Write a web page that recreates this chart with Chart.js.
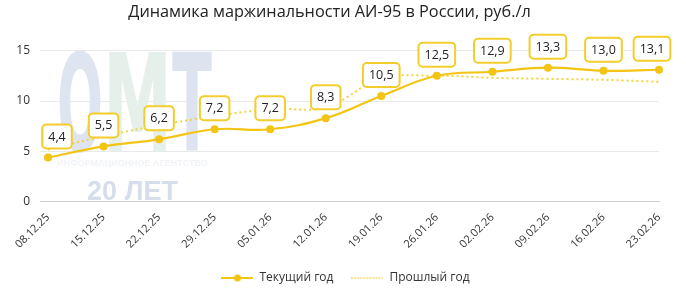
<!DOCTYPE html>
<html>
<head>
<meta charset="utf-8">
<script src="https://cdn.jsdelivr.net/npm/chart.js@4"></script>
<style>
  html, body { margin: 0; padding: 0; background: #fff; }
  #wrap { width: 686px; height: 298px; }
</style>
</head>
<body>
<div id="wrap"><canvas id="marginChart" width="686" height="298"></canvas></div>
<script>
// данные
const weeks = ["08.12.25", "15.12.25", "22.12.25", "29.12.25", "05.01.26", "12.01.26",
               "19.01.26", "26.01.26", "02.02.26", "09.02.26", "16.02.26", "23.02.26"];
const currentYear = [4.4, 5.5, 6.2, 7.2, 7.2, 8.3, 10.5, 12.5, 12.9, 13.3, 13.0, 13.1];
const lastYear = [5.2, 6.5, 7.6, 8.5, 9.2, 9.4, 12.2, 12.5, 12.3, 12.2, 12.1, 11.9];
const yTicks = [0, 5, 10, 15];

const GOLD = "#f4c414";
const GOLD_LIGHT = "#f5d23c";

function legendIcon(dotted) {
    const c = document.createElement("canvas");
    c.width = 32; c.height = 10;
    const g = c.getContext("2d");
    g.strokeStyle = dotted ? GOLD_LIGHT : GOLD;
    g.lineWidth = dotted ? 1.5 : 2;
    if (dotted) g.setLineDash([1.5, 1.5]);
    g.beginPath(); g.moveTo(0, 5); g.lineTo(32, 5); g.stroke();
    if (!dotted) {
        g.fillStyle = GOLD;
        g.beginPath(); g.arc(16, 5, 3.5, 0, Math.PI * 2); g.fill();
    }
    return c;
}
const icons = [legendIcon(false), legendIcon(true)];

// водяной знак ОМТ
const watermark = {
    id: "watermark",
    afterLayout(chart) {
        // легенда в оригинале немного правее центра
        chart.legend.left += 16;
        chart.legend.right += 16;
    },
    beforeDatasetsDraw(chart) {
        const ctx = chart.ctx;
        ctx.save();
        ctx.textBaseline = "alphabetic";
        ctx.font = "bold 60px 'DejaVu Sans Condensed', 'Liberation Sans Narrow'";
        const letters = [["O", 57, 46, "#dfe5f0"], ["M", 103, 69, "#e4f0e9"], ["T", 172, 40, "#dde4ef"]];
        for (const [ch, x, w, col] of letters) {
            const mw = ctx.measureText(ch).width;
            ctx.save();
            ctx.translate(x, 151);
            ctx.scale(w / mw, 2.27);
            ctx.fillStyle = col;
            ctx.fillText(ch, 0, 0);
            ctx.restore();
        }
        ctx.fillStyle = "#f1f3f7";
        ctx.font = "bold 9px 'Liberation Sans'";
        ctx.fillText("ИНФОРМАЦИОННОЕ АГЕНТСТВО", 57, 166, 158);
        ctx.fillStyle = "#d6deeb";
        ctx.font = "bold 28px 'Liberation Sans'";
        ctx.fillText("20 ЛЕТ", 87, 200, 91);
        ctx.restore();
    }
};

// подписи значений в рамках
const valueBoxes = {
    id: "valueBoxes",
    afterDatasetsDraw(chart) {
        const ctx = chart.ctx;
        const meta = chart.getDatasetMeta(0);
        ctx.save();
        ctx.font = "12.5px 'Open Sans'";
        ctx.textAlign = "center";
        ctx.textBaseline = "middle";
        meta.data.forEach((pt, i) => {
            const txt = currentYear[i].toFixed(1).replace(".", ",");
            const w = ctx.measureText(txt).width + 12;
            const h = 24;
            let cx = pt.x;
            cx = Math.max(cx, 57);
            cx = Math.min(cx, 652);
            const cy = pt.y - 21;
            ctx.beginPath();
            ctx.roundRect(cx - w / 2, cy - h / 2, w, h, 4);
            ctx.fillStyle = "#fff";
            ctx.fill();
            ctx.lineWidth = 2;
            ctx.strokeStyle = "#f2cd2c";
            ctx.stroke();
            ctx.fillStyle = "#222";
            ctx.fillText(txt, cx, cy + 0.5);
        });
        ctx.restore();
    }
};

new Chart(document.getElementById("marginChart"), {
    type: "line",
    data: {
        labels: weeks,
        datasets: [{
            label: "Текущий год",
            data: currentYear,
            borderColor: GOLD,
            backgroundColor: GOLD,
            borderWidth: 2.2,
            pointRadius: 4,
            pointBackgroundColor: GOLD,
            pointBorderWidth: 0,
            tension: 0.4,
            order: 0
        }, {
            label: "Прошлый год",
            data: lastYear,
            borderColor: GOLD_LIGHT,
            backgroundColor: GOLD_LIGHT,
            borderWidth: 2,
            borderDash: [2, 3],
            pointRadius: 0,
            tension: 0.4,
            order: 1
        }]
    },
    options: {
        responsive: false,
        animation: false,
        layout: { padding: { left: 0, right: 27, top: 0, bottom: 4 } },
        plugins: {
            title: {
                display: true,
                text: "Динамика маржинальности АИ-95 в России, руб./л",
                color: "#222",
                font: { family: "'Open Sans'", size: 16.3, weight: "normal" },
                padding: { top: 3, bottom: 28 }
            },
            legend: {
                position: "bottom",
                labels: {
                    usePointStyle: true,
                    pointStyleWidth: 32,
                    boxHeight: 10,
                    padding: 18,
                    color: "#333",
                    font: { family: "'Open Sans'", size: 12 },
                    generateLabels(chart) {
                        const items = Chart.defaults.plugins.legend.labels.generateLabels(chart);
                        items.forEach((it, i) => { it.pointStyle = icons[i]; });
                        return items;
                    }
                }
            },
            tooltip: { enabled: false }
        },
        scales: {
            x: {
                offset: false,
                grid: { display: false },
                border: { display: true, color: "#d0d0d0" },
                afterFit(scale) { scale.height += 2; },
                ticks: {
                    minRotation: 45,
                    maxRotation: 45,
                    color: "#333",
                    padding: 1,
                    font: { family: "'Open Sans'", size: 11 }
                }
            },
            y: {
                min: 0,
                max: 15,
                afterBuildTicks(scale) { scale.ticks = yTicks.map(v => ({ value: v })); },
                afterFit(scale) { scale.width = 48; },
                border: { display: false },
                grid: {
                    color: ctx => ctx.tick && ctx.tick.value === 0 ? "#d0d0d0" : "#e9e9e9",
                    tickLength: 8
                },
                ticks: {
                    color: "#333",
                    padding: 10,
                    font: { family: "'Open Sans'", size: 12 }
                }
            }
        }
    },
    plugins: [watermark, valueBoxes]
});
</script>
</body>
</html>
